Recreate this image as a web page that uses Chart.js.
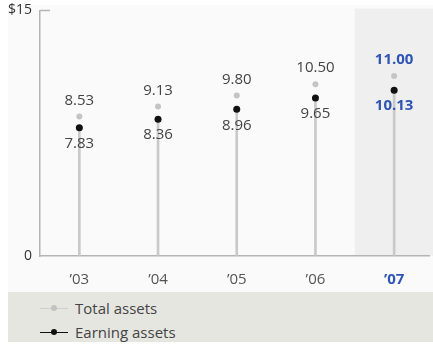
<!DOCTYPE html>
<html lang="en">
<head>
    <meta charset="UTF-8">
    <title>Assets</title>
    <script src="https://cdn.jsdelivr.net/npm/chart.js"></script>
    <style>
        body { margin: 0; background: #fff; font-family: 'Open Sans', sans-serif; }
        #wrap { position: relative; width: 433px; height: 344px; }
        #legend { position: absolute; left: 8px; top: 292px; width: 425px; height: 50px; background: #e6e6e1; }
        .item { position: absolute; left: 32px; height: 20px; line-height: 20px; font-size: 15px; color: #444; }
        .sym { position: absolute; left: 0; top: 10px; width: 28px; height: 0; border-top: 1.5px solid; }
        .sym i { position: absolute; left: 11px; top: -4px; width: 6px; height: 6px; border-radius: 50%; }
        .item span.txt { position: absolute; left: 35px; white-space: nowrap; }
    </style>
</head>
<body>
<div id="wrap">
    <canvas id="myChart" width="433" height="292"></canvas>
    <div id="legend">
        <div class="item" style="top:6px"><div class="sym" style="border-color:#cfcfcf"><i style="background:#c2c2c2"></i></div><span class="txt">Total assets</span></div>
        <div class="item" style="top:30px"><div class="sym" style="border-color:#111"><i style="background:#111"></i></div><span class="txt">Earning assets</span></div>
    </div>
</div>
<script>
    const years = ['\u201903', '\u201904', '\u201905', '\u201906', '\u201907'];
    const totalAssets = [8.53, 9.13, 9.80, 10.50, 11.00];
    const earningAssets = [7.83, 8.36, 8.96, 9.65, 10.13];
    const yTicks = [0, 15];

    const FONT = "'Open Sans', sans-serif";
    const BLUE = '#2f55b4';

    const decor = {
        id: 'decor',
        beforeDraw(chart) {
            const c = chart.ctx, x = chart.scales.x, a = chart.chartArea;
            c.save();
            c.fillStyle = '#fafafa';
            c.fillRect(8, 5, chart.width - 8, chart.height - 5);
            // highlight last year
            const hx = x.getPixelForValue(years.length - 1.5);
            c.fillStyle = '#efefef';
            c.fillRect(hx, a.top - 2, chart.width - hx, a.bottom - a.top + 2);
            c.restore();
        },
        afterDraw(chart) {
            const c = chart.ctx, y = chart.scales.y, a = chart.chartArea;
            c.save();
            c.strokeStyle = '#b4b4b4';
            c.lineWidth = 1.5;
            c.beginPath();
            c.moveTo(a.left, y.getPixelForValue(15));
            c.lineTo(a.left + 10, y.getPixelForValue(15));
            c.stroke();
            c.restore();
        },
        afterDatasetsDraw(chart) {
            const c = chart.ctx;
            const tot = chart.getDatasetMeta(1).data, earn = chart.getDatasetMeta(2).data;
            c.save();
            c.textAlign = 'center';
            c.textBaseline = 'middle';
            years.forEach((yr, i) => {
                const last = i === years.length - 1;
                c.fillStyle = last ? BLUE : '#444';
                c.font = (last ? 'bold ' : '') + '15px ' + FONT;
                c.fillText(totalAssets[i].toFixed(2), tot[i].x, tot[i].y - 16);
                c.fillText(earningAssets[i].toFixed(2), earn[i].x, earn[i].y + 16);
            });
            c.restore();
        }
    };

    const ctx = document.getElementById('myChart').getContext('2d');
    const chart = new Chart(ctx, {
        type: 'line',
        data: {
            datasets: [{
                type: 'bar',
                data: earningAssets.map((v, i) => ({ x: i, y: v })),
                backgroundColor: '#c9c9c9',
                barThickness: 2,
                order: 3
            }, {
                label: 'Total assets',
                data: totalAssets.map((v, i) => ({ x: i, y: v })),
                showLine: false,
                pointRadius: 3,
                pointBorderWidth: 0,
                pointBackgroundColor: '#c4c4c4',
                order: 2
            }, {
                label: 'Earning assets',
                data: earningAssets.map((v, i) => ({ x: i, y: v })),
                showLine: false,
                pointRadius: 3.5,
                pointBorderWidth: 0,
                pointBackgroundColor: '#111',
                order: 1
            }]
        },
        options: {
            responsive: false,
            animation: false,
            devicePixelRatio: 1,
            layout: { padding: { top: 0, left: 0, right: 0, bottom: 0 } },
            plugins: { legend: { display: false }, tooltip: { enabled: false } },
            scales: {
                x: {
                    type: 'linear',
                    offset: false,
                    min: -0.5,
                    max: 4.443,
                    afterBuildTicks: s => { s.ticks = years.map((_, i) => ({ value: i })); },
                    afterFit: s => { s.height = 36; },
                    grid: { drawOnChartArea: false, drawTicks: false, offset: false },
                    border: { color: '#b4b4b4', width: 1.5 },
                    ticks: {
                        padding: 15,
                        autoSkip: false,
                        maxRotation: 0,
                        callback: v => years[v],
                        color: c => c.index === years.length - 1 ? BLUE : '#555',
                        font: c => ({ family: FONT, size: 15, weight: c.index === years.length - 1 ? 'bold' : 'normal' })
                    }
                },
                y: {
                    min: 0,
                    max: 15,
                    afterBuildTicks: s => { s.ticks = yTicks.map(v => ({ value: v })); },
                    afterFit: s => { s.width = 40; s.paddingTop = 10.5; },
                    grid: { drawOnChartArea: false, drawTicks: false },
                    border: { color: '#b4b4b4', width: 1.5 },
                    ticks: {
                        padding: 8,
                        callback: v => v === 15 ? '$15' : String(v),
                        color: '#333',
                        font: { family: FONT, size: 14, lineHeight: 1 }
                    }
                }
            }
        },
        plugins: [decor]
    });
</script>
</body>
</html>
